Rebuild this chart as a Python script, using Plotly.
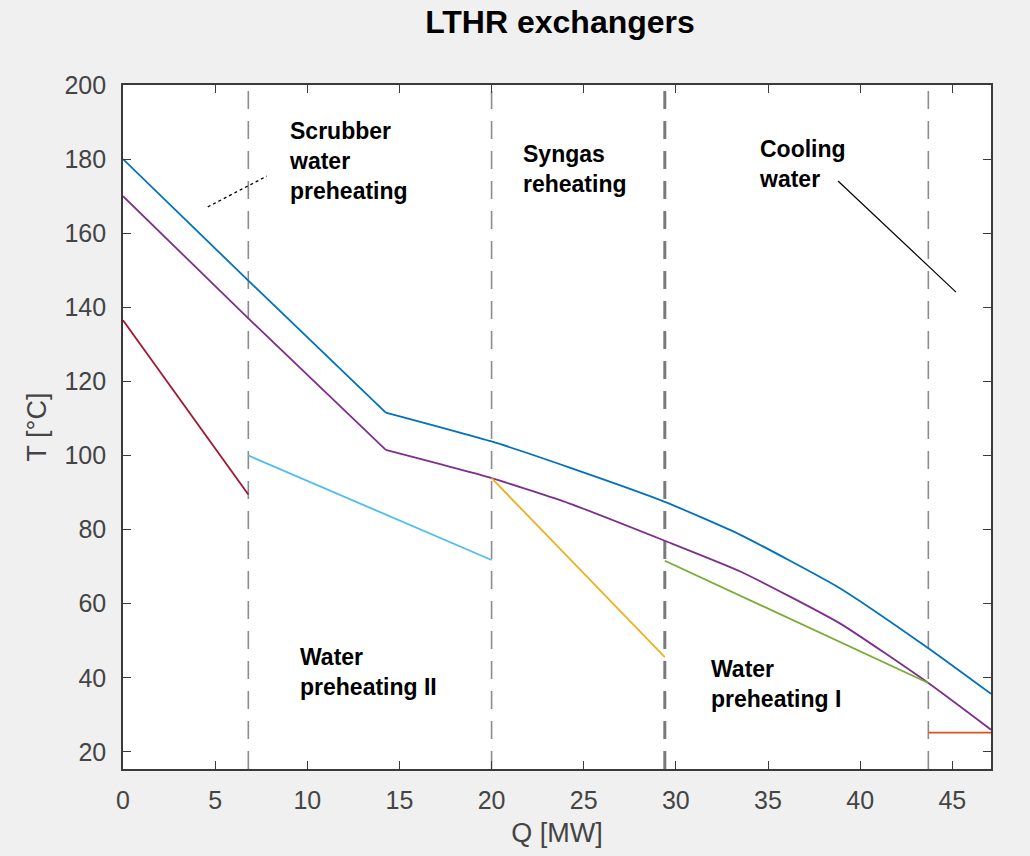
import plotly.graph_objects as go

# Heat-exchange duty Q [MW] and temperatures T [°C] for the LTHR exchangers
q_hot = [0, 6.8, 14.26, 20.0, 24.2, 29.4, 33.5, 38.9, 43.7, 47.1]
t_hot_upper = [180, 147.2, 111.6, 103.8, 96.8, 87.5, 78.6, 64.2, 48.0, 35.7]
t_hot_lower = [170, 137.0, 101.5, 93.9, 87.1, 77.0, 68.7, 54.7, 38.6, 26.0]
kink_index = 2  # composite curves change slope sharply at this point

q_scrubber = [0, 6.8]
t_scrubber = [136.5, 89.5]

q_wp2 = [6.8, 20.0]
t_wp2 = [100.0, 71.8]

q_syngas = [20.0, 29.4]
t_syngas = [93.9, 45.6]

q_wp1 = [29.4, 43.7]
t_wp1 = [71.6, 38.6]

q_cooling = [43.7, 47.1]
t_cooling = [25.2, 25.2]

# Section boundaries between exchangers
boundaries = [6.8, 20.0, 29.4, 43.7]

# Section labels: (text, x, y)
section_labels = [
    ("Scrubber<br>water<br>preheating", 8.9, 179.5),
    ("Syngas<br>reheating", 21.6, 177.2),
    ("Cooling<br>water", 34.4, 178.7),
    ("Water<br>preheating II", 9.5, 41.5),
    ("Water<br>preheating I", 31.8, 38.4),
]

# Leader lines for the labels
scrubber_leader_q = [4.6, 7.8]
scrubber_leader_t = [167.1, 175.4]
cooling_leader_q = [38.8, 45.2]
cooling_leader_t = [174.1, 144.1]

x_ticks = [0, 5, 10, 15, 20, 25, 30, 35, 40, 45]
y_ticks = [20, 40, 60, 80, 100, 120, 140, 160, 180, 200]
x_range = [0, 47.1]
y_range = [15.4, 200]

FONT = "Liberation Sans, Arial, Helvetica, sans-serif"

fig = go.Figure()


def add_line(xs, ys, color, shape="linear"):
    fig.add_trace(go.Scatter(x=xs, y=ys, mode="lines",
                             line=dict(color=color, width=1.8, shape=shape, smoothing=0.5),
                             showlegend=False, hoverinfo="skip"))


# Composite hot curves: straight section, then the smooth curved section
for temps, color in [(t_hot_upper, "#0072BD"), (t_hot_lower, "#7E2F8E")]:
    add_line(q_hot[:kink_index + 1], temps[:kink_index + 1], color)
    add_line(q_hot[kink_index:], temps[kink_index:], color, shape="spline")

add_line(q_scrubber, t_scrubber, "#A2142F")
add_line(q_wp2, t_wp2, "#4DBEEE")
add_line(q_syngas, t_syngas, "#EDB120")
add_line(q_wp1, t_wp1, "#77AC30")
add_line(q_cooling, t_cooling, "#D95319")

# Leader lines
fig.add_trace(go.Scatter(x=scrubber_leader_q, y=scrubber_leader_t, mode="lines",
                         line=dict(color="black", width=1.3, dash="dot"),
                         showlegend=False, hoverinfo="skip"))
fig.add_trace(go.Scatter(x=cooling_leader_q, y=cooling_leader_t, mode="lines",
                         line=dict(color="black", width=1.2),
                         showlegend=False, hoverinfo="skip"))

# Dashed section boundaries
for b in boundaries:
    thick = abs(b - 29.4) < 1e-9
    fig.add_shape(type="line", xref="x", yref="y domain",
                  x0=b, x1=b, y0=0, y1=1,
                  line=dict(color="#7a7a7a" if thick else "#8c8c8c",
                            width=3 if thick else 1.6, dash="18px,12px"),
                  layer="below")

for text, x, y in section_labels:
    fig.add_annotation(x=x, y=y, xref="x", yref="y", text=f"<b>{text}</b>",
                       showarrow=False, xanchor="left", yanchor="middle", align="left",
                       font=dict(family=FONT, size=23, color="black"))

axis_common = dict(
    showline=True, linecolor="#3a3a3a", linewidth=1.6, mirror="allticks",
    ticks="inside", ticklen=8, tickwidth=1.4, tickcolor="#3a3a3a",
    showgrid=False, zeroline=False,
    tickfont=dict(family=FONT, size=25, color="#444444"),
)

fig.update_xaxes(range=x_range, tickvals=x_ticks, ticklabelstandoff=8,
                 title=dict(text="Q [MW]", standoff=10,
                            font=dict(family=FONT, size=27, color="#444444")),
                 **axis_common)
fig.update_yaxes(range=y_range, tickvals=y_ticks, ticklabelstandoff=10,
                 title=dict(text="T [°C]", standoff=10,
                            font=dict(family=FONT, size=27, color="#444444")),
                 **axis_common)

fig.update_layout(
    width=1030, height=856,
    margin=dict(l=123, r=39, t=85, b=87),
    paper_bgcolor="#f0f0f0", plot_bgcolor="white",
    title=dict(text="<b>LTHR exchangers</b>", x=560 / 1030, xanchor="center",
               y=1 - 22 / 856, yanchor="middle", yref="container",
               font=dict(family=FONT, size=32, color="black")),
)

fig.write_html("out.html")
